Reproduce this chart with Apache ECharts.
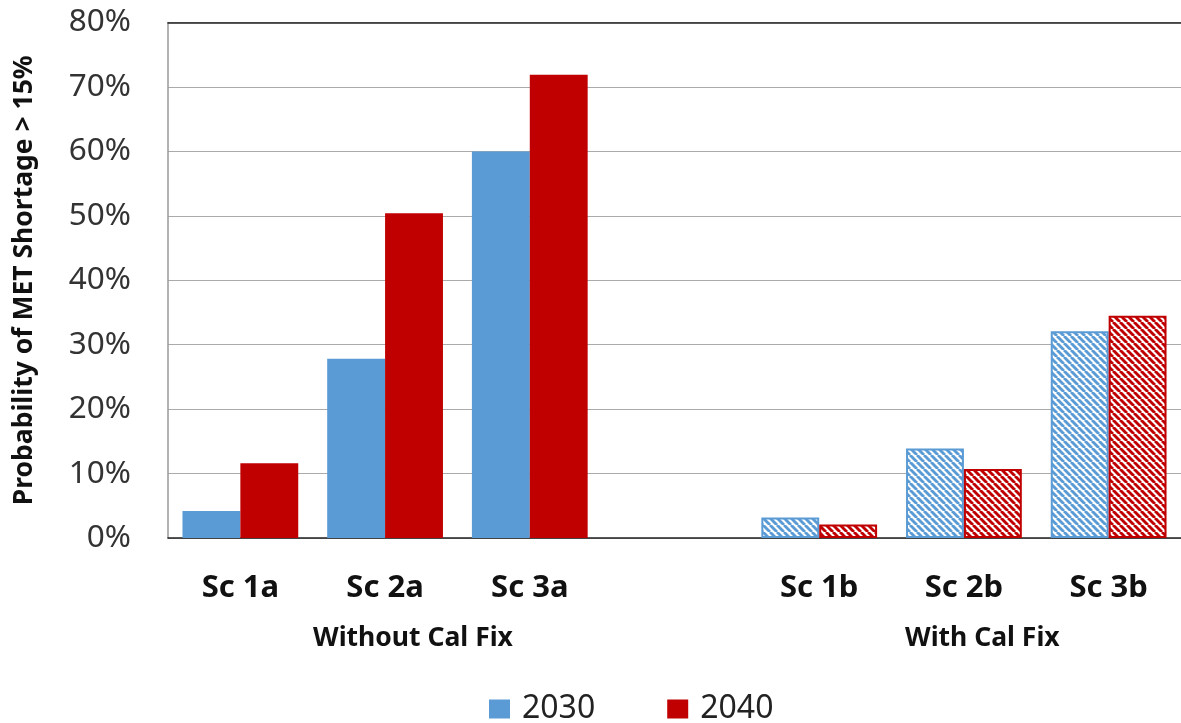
<!DOCTYPE html>
<html>
<head>
<meta charset="utf-8">
<script src="https://cdn.jsdelivr.net/npm/echarts@6/dist/echarts.min.js"></script>
<style>
html,body{margin:0;padding:0;background:#fff;}
#chart{width:1181px;height:723px;}
</style>
</head>
<body>
<div id="chart"></div>
<script>
var categories = ['Sc 1a', 'Sc 2a', 'Sc 3a', '', 'Sc 1b', 'Sc 2b', 'Sc 3b'];
var values2030 = [4.2, 27.8, 60.0, null, 3.2, 13.9, 32.1];
var values2040 = [11.6, 50.4, 71.9, null, 2.1, 10.7, 34.5];
var hatched = [false, false, false, false, true, true, true];
var seriesNames = ['2030', '2040'];
var groupLabels = ['Without Cal Fix', 'With Cal Fix'];
var yTicks = [0, 10, 20, 30, 40, 50, 60, 70, 80];

var FONT = '"Noto Sans", "Open Sans", sans-serif';
var BLUE = '#5B9BD5';
var RED = '#C00000';

function makePattern(color) {
  var s = 7;
  var c = document.createElement('canvas');
  c.width = s; c.height = s;
  var ctx = c.getContext('2d');
  ctx.fillStyle = '#ffffff';
  ctx.fillRect(0, 0, s, s);
  ctx.strokeStyle = color;
  ctx.lineWidth = 2.9;
  [-s, 0, s].forEach(function (o) {
    ctx.beginPath();
    ctx.moveTo(o, 0);
    ctx.lineTo(o + s, s);
    ctx.stroke();
  });
  return c;
}

function buildData(values, color) {
  return values.map(function (v, i) {
    if (v === null) return '-';
    if (hatched[i]) {
      return {
        value: v,
        itemStyle: {
          color: { image: makePattern(color), repeat: 'repeat' },
          borderColor: color,
          borderWidth: 2
        }
      };
    }
    return v;
  });
}

var chart = echarts.init(document.getElementById('chart'), null, { renderer: 'canvas' });
chart.setOption({
  animation: false,
  backgroundColor: '#ffffff',
  grid: { left: 168, right: 0, top: 22.5, bottom: 185, containLabel: false },
  legend: {
    data: seriesNames,
    bottom: -7,
    left: 484,
    itemWidth: 21,
    itemHeight: 19,
    itemGap: 72,
    icon: 'rect',
    textStyle: { fontFamily: FONT, fontSize: 32, color: '#222', padding: [0, 0, 0, 7] }
  },
  xAxis: [{
    type: 'category',
    data: categories,
    axisLine: { show: true, lineStyle: { color: '#222', width: 1.5 } },
    axisTick: { show: false },
    axisLabel: { margin: 35, fontFamily: FONT, fontSize: 31, fontWeight: 'bold', color: '#111' }
  }, {
    type: 'category',
    data: categories,
    position: 'top',
    axisLine: { show: true, lineStyle: { color: '#222', width: 1.5 } },
    axisTick: { show: false },
    axisLabel: { show: false }
  }],
  yAxis: {
    type: 'value',
    min: yTicks[0],
    max: yTicks[yTicks.length - 1],
    interval: 10,
    name: 'Probability of MET Shortage > 15%',
    nameLocation: 'middle',
    nameGap: 130,
    nameTextStyle: { fontFamily: FONT, fontSize: 26.5, fontWeight: 'bold', color: '#111' },
    axisLine: { show: true, lineStyle: { color: '#999', width: 1.5 } },
    axisTick: { show: false },
    splitLine: { lineStyle: { color: '#aaa', width: 1.2 } },
    axisLabel: {
      margin: 37,
      fontFamily: FONT,
      fontSize: 31.5,
      color: '#333',
      formatter: function (v) { return v + '%'; }
    }
  },
  series: [{
    name: seriesNames[0],
    type: 'bar',
    barGap: '0%',
    barCategoryGap: '20%',
    itemStyle: { color: BLUE },
    data: buildData(values2030, BLUE)
  }, {
    name: seriesNames[1],
    type: 'bar',
    barGap: '0%',
    barCategoryGap: '20%',
    itemStyle: { color: RED },
    data: buildData(values2040, RED)
  }],
  graphic: [{
    type: 'text',
    left: 313, top: 625,
    style: { text: groupLabels[0], fontFamily: FONT, fontSize: 26.5, fontWeight: 'bold', fill: '#111' }
  }, {
    type: 'text',
    left: 905, top: 625,
    style: { text: groupLabels[1], fontFamily: FONT, fontSize: 26.5, fontWeight: 'bold', fill: '#111' }
  }]
});
</script>
</body>
</html>
